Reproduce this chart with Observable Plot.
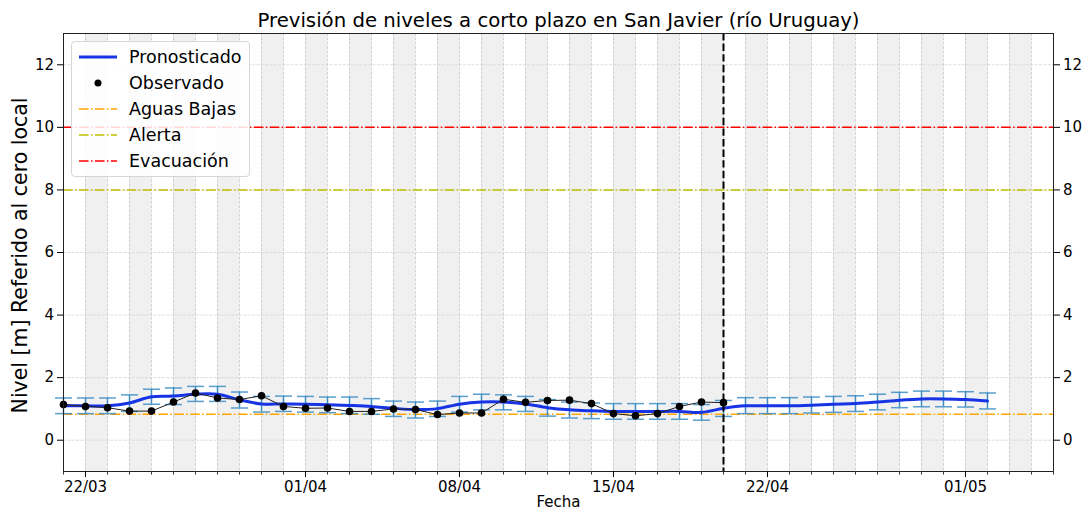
<!DOCTYPE html>
<html>
<head>
<meta charset="utf-8">
<script src="https://cdn.jsdelivr.net/npm/d3@7"></script>
<script src="https://cdn.jsdelivr.net/npm/@observablehq/plot@0.6"></script>
<style>
  body { margin: 0; background: #fff; font-family: "DejaVu Sans", sans-serif; }
  #wrap { position: relative; width: 1085px; height: 513px; }
  #legend { position: absolute; left: 71px; top: 41px; width: 179px; height: 136px;
    background: rgba(255,255,255,0.85); border: 1px solid #d6d6d6; border-radius: 4px; box-sizing: border-box; }
  .row { position: absolute; left: 0; height: 26px; width: 179px; }
  .row svg { position: absolute; left: 6px; top: 0; }
  .row span { position: absolute; left: 57px; top: 0; line-height: 26px; font-size: 17.5px; color: #000; white-space: nowrap; }
</style>
</head>
<body>
<div id="wrap"><div id="chart"></div><div id="legend"></div></div>
<script>
// ---------------- data ----------------
const titleText = "Previsión de niveles a corto plazo en San Javier (río Uruguay)";
const yLabelText = "Nivel [m] Referido al cero local";
const xLabelText = "Fecha";

const firstDay = new Date(Date.UTC(2024, 2, 21));   // 21/03
const lastDay = new Date(Date.UTC(2024, 4, 5));     // 05/05 (axis end)
const forecastIssue = new Date(Date.UTC(2024, 3, 20)); // 20/04 dashed line

// forecast (Pronosticado), daily from 21/03 to 02/05
const forecast = [1.10, 1.10, 1.10, 1.19, 1.39, 1.41, 1.47, 1.47, 1.29, 1.16, 1.16,
  1.15, 1.13, 1.11, 1.08, 1.02, 0.98, 1.01, 1.15, 1.22, 1.22, 1.16, 1.04, 0.97, 0.94,
  0.92, 0.92, 0.92, 0.92, 0.89, 1.02, 1.10, 1.10, 1.10, 1.12, 1.15, 1.17, 1.22, 1.28,
  1.32, 1.32, 1.30, 1.25];
const forecastHigh = [1.35, 1.35, 1.35, 1.45, 1.63, 1.67, 1.72, 1.72, 1.54, 1.40, 1.41,
  1.40, 1.38, 1.38, 1.33, 1.25, 1.22, 1.25, 1.40, 1.47, 1.45, 1.40, 1.30, 1.22, 1.19,
  1.17, 1.17, 1.17, 1.17, 1.14, 1.27, 1.36, 1.36, 1.36, 1.38, 1.40, 1.42, 1.47, 1.53,
  1.57, 1.57, 1.55, 1.51];
const forecastLow = [0.85, 0.85, 0.85, 0.92, 1.15, 1.14, 1.24, 1.24, 1.03, 0.90, 0.92,
  0.90, 0.88, 0.85, 0.83, 0.76, 0.71, 0.76, 0.90, 0.97, 0.97, 0.92, 0.77, 0.71, 0.69,
  0.67, 0.67, 0.67, 0.67, 0.64, 0.76, 0.85, 0.85, 0.85, 0.87, 0.89, 0.92, 0.97, 1.04,
  1.07, 1.07, 1.06, 1.00];

// observed (Observado), daily from 21/03 to 20/04
const observed = [1.14, 1.08, 1.04, 0.93, 0.93, 1.22, 1.51, 1.35, 1.30, 1.42, 1.08,
  1.02, 1.03, 0.92, 0.92, 1.00, 0.98, 0.82, 0.87, 0.87, 1.31, 1.21, 1.27, 1.28, 1.17,
  0.85, 0.78, 0.85, 1.08, 1.22, 1.20];

const thresholds = [
  {name: "Aguas Bajas", value: 0.83, color: "#ffa500"},
  {name: "Alerta", value: 8, color: "#bfbf00"},
  {name: "Evacuación", value: 10, color: "#ff0000"}
];

const yTicks = [0, 2, 4, 6, 8, 10, 12];
const xTickLabels = ["22/03", "01/04", "08/04", "15/04", "22/04", "01/05"];

// ---------------- build ----------------
const parseDM = s => { const [d, m] = s.split("/").map(Number); return new Date(Date.UTC(2024, m - 1, d)); };
const xTicks = xTickLabels.map(parseDM);
const fcData = forecast.map((v, i) => ({date: d3.utcDay.offset(firstDay, i), y: v, lo: forecastLow[i], hi: forecastHigh[i]}));
const obsData = observed.map((v, i) => ({date: d3.utcDay.offset(firstDay, i), y: v}));
const allDays = d3.utcDay.range(firstDay, d3.utcDay.offset(lastDay, 1));
const bandDays = allDays.filter((d, i) => i % 2 === 1 && d < lastDay);

const capSymbol = {draw(ctx) { ctx.moveTo(-8.5, 0); ctx.lineTo(8.5, 0); }};
const dashDot = "9.6,2.4,1.5,2.4";
const errColor = "#3c8dc4";
const fcColor = "#1633e4";

const chart = Plot.plot({
  width: 1085, height: 513,
  marginLeft: 63, marginRight: 32, marginTop: 33, marginBottom: 42,
  style: {fontFamily: "DejaVu Sans", fontSize: "15px", background: "#fff", color: "#000"},
  x: {type: "utc", domain: [firstDay, lastDay], label: null},
  y: {domain: [-1, 13], label: null},
  marks: [
    Plot.rect(bandDays, {x1: d => d, x2: d => d3.utcDay.offset(d, 1), fill: "#f0f0f0"}),
    Plot.ruleX(allDays, {stroke: "#c8c8c8", strokeWidth: 0.8, strokeDasharray: "3,1.3"}),
    Plot.ruleY(yTicks, {stroke: "#d4d4d4", strokeWidth: 0.8, strokeDasharray: "3,1.3"}),
    Plot.ruleY(thresholds, {y: "value", stroke: "color", strokeWidth: 1.5, strokeDasharray: dashDot}),
    Plot.ruleX(fcData, {x: "date", y1: "lo", y2: "hi", stroke: errColor, strokeWidth: 1.5}),
    Plot.dot(fcData, {x: "date", y: "lo", symbol: capSymbol, stroke: errColor, strokeWidth: 1.5, strokeOpacity: 0.85, r: 5}),
    Plot.dot(fcData, {x: "date", y: "hi", symbol: capSymbol, stroke: errColor, strokeWidth: 1.5, strokeOpacity: 0.85, r: 5}),
    Plot.line(fcData, {x: "date", y: "y", stroke: fcColor, strokeWidth: 3, curve: "catmull-rom"}),
    Plot.line(obsData, {x: "date", y: "y", stroke: "#222", strokeWidth: 1}),
    Plot.dot(obsData, {x: "date", y: "y", r: 3.8, fill: "#000", stroke: "none"}),
    Plot.ruleX([forecastIssue], {stroke: "#000", strokeWidth: 2, strokeDasharray: "7.4,3.2"}),
    Plot.frame({stroke: "#222", strokeWidth: 1}),
    Plot.axisX({ticks: allDays, tickSize: 3.5, tickFormat: () => "", label: null, stroke: "#333"}),
    Plot.axisX({ticks: xTicks, tickSize: 6, tickPadding: 3.5, tickFormat: d3.utcFormat("%d/%m"), fontSize: 15, label: null, stroke: "#000"}),
    Plot.axisY({anchor: "left", ticks: yTicks, tickSize: 6, tickPadding: 3.5, fontSize: 15, label: null, tickFormat: d3.format("d")}),
    Plot.axisY({anchor: "right", ticks: yTicks, tickSize: 6, tickPadding: 3.5, fontSize: 15, label: null, tickFormat: d3.format("d")}),
    Plot.text([titleText], {text: d => d, frameAnchor: "top", lineAnchor: "middle", textAnchor: "middle", dy: -13, fontSize: 19.7, fill: "#000"}),
    Plot.text([yLabelText], {text: d => d, frameAnchor: "left", lineAnchor: "middle", textAnchor: "middle", rotate: -90, dx: -43, dy: 3, fontSize: 20.5, fill: "#000"}),
    Plot.text([xLabelText], {text: d => d, frameAnchor: "bottom", lineAnchor: "middle", textAnchor: "middle", dy: 31, fontSize: 15, fill: "#000"})
  ]
});
document.getElementById("chart").appendChild(chart);

// ---------------- legend ----------------
const legendItems = [
  {name: "Pronosticado", kind: "line", color: fcColor, width: 3, dash: null},
  {name: "Observado", kind: "dot", color: "#000"},
  ...thresholds.map(t => ({name: t.name, kind: "line", color: t.color, width: 1.5, dash: dashDot}))
];
const legend = d3.select("#legend");
legendItems.forEach((it, i) => {
  const row = legend.append("div").attr("class", "row").style("top", (1.5 + i * 26) + "px");
  const sw = row.append("svg").attr("width", 40).attr("height", 26);
  if (it.kind === "line") {
    sw.append("line").attr("x1", 1).attr("x2", 39).attr("y1", 13).attr("y2", 13)
      .attr("stroke", it.color).attr("stroke-width", it.width)
      .attr("stroke-dasharray", it.dash);
  } else {
    sw.append("circle").attr("cx", 20).attr("cy", 13).attr("r", 3.5).attr("fill", it.color);
  }
  row.append("span").text(it.name);
});
</script>
</body>
</html>
